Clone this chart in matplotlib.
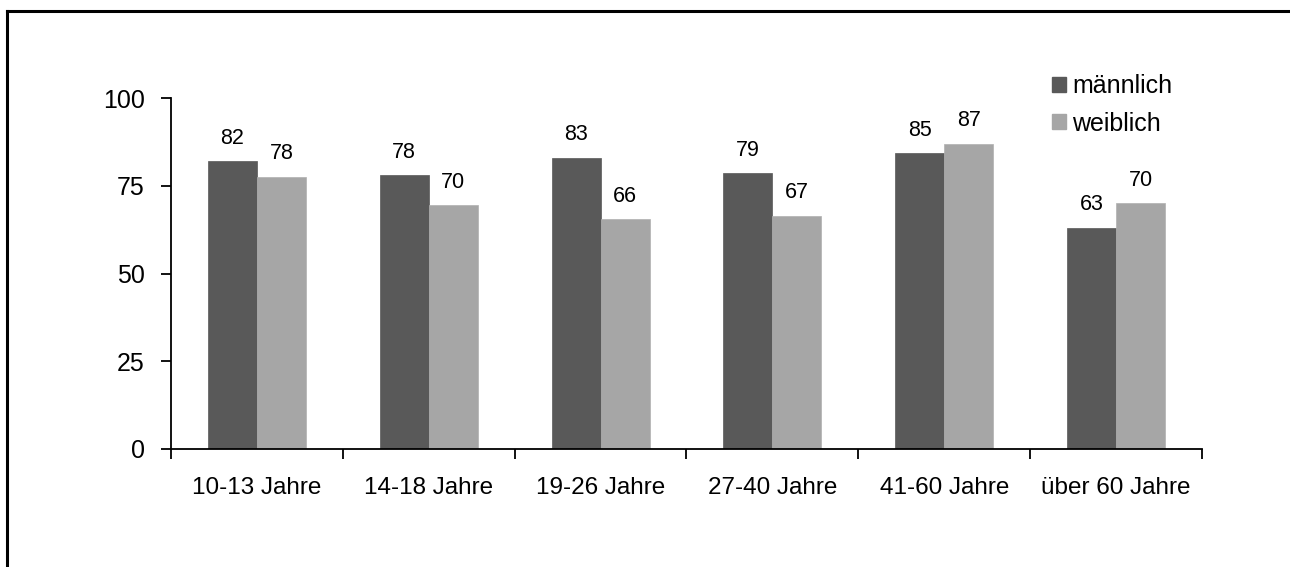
import matplotlib
matplotlib.use("Agg")
import matplotlib.pyplot as plt
import matplotlib.patches as mpatches
from matplotlib.lines import Line2D
import numpy as np

plt.rcParams['font.family'] = ['Liberation Sans', 'DejaVu Sans']

categories = ["10-13 Jahre", "14-18 Jahre", "19-26 Jahre", "27-40 Jahre", "41-60 Jahre", "über 60 Jahre"]
maennlich = [82, 78, 83, 78.5, 84.3, 63]
weiblich = [77.5, 69.5, 65.5, 66.5, 87, 70]
labels_m = ["82", "78", "83", "79", "85", "63"]
labels_w = ["78", "70", "66", "67", "87", "70"]
series_names = ["männlich", "weiblich"]

dark = "#595959"
light = "#a6a6a6"

fig = plt.figure(figsize=(12.9, 5.67), dpi=100)
ax = fig.add_axes([171 / 1290, 1 - 449 / 567, (1202 - 171) / 1290, (449 - 98) / 567])

x = np.arange(len(categories))
w = 0.285
bm = ax.bar(x - w / 2, maennlich, w, color=dark, edgecolor=dark, linewidth=0.5)
bw = ax.bar(x + w / 2, weiblich, w, color=light, edgecolor="#b0b0b0", linewidth=0.5)

for rects, labs in ((bm, labels_m), (bw, labels_w)):
    for r, lab in zip(rects, labs):
        ax.annotate(lab, (r.get_x() + r.get_width() / 2, r.get_height()),
                    xytext=(0, 9), textcoords="offset points",
                    ha="center", va="bottom", fontsize=15.5)

ax.set_xlim(-0.5, len(categories) - 0.5)
ax.set_ylim(0, 100)
ax.set_yticks([0, 25, 50, 75, 100])
ax.tick_params(axis="y", direction="out", length=7, width=1.3, pad=12, labelsize=18)

# category boundaries as major ticks, names on minor ticks
ax.set_xticks(np.arange(-0.5, len(categories), 1.0))
ax.set_xticklabels([])
ax.set_xticks(x, minor=True)
ax.set_xticklabels(categories, minor=True, fontsize=17.5)
ax.tick_params(axis="x", which="major", direction="out", length=7, width=1.3)
ax.tick_params(axis="x", which="minor", length=0, pad=20)

for s in ["top", "right"]:
    ax.spines[s].set_visible(False)
for s in ["left", "bottom"]:
    ax.spines[s].set_linewidth(1.3)

handles = [mpatches.Patch(color=dark), mpatches.Patch(color=light)]
ax.legend(handles, series_names, loc="upper left",
          bbox_to_anchor=(1052 / 1290, 1 - 74 / 567), bbox_transform=fig.transFigure,
          frameon=False, fontsize=18, handlelength=0.55, handleheight=0.55,
          handletextpad=0.25, labelspacing=0.55, borderpad=0, borderaxespad=0)

# border of the original screenshot (top and left edges only)
fig.add_artist(Line2D([7 / 1290, 1], [1 - 11 / 567, 1 - 11 / 567], transform=fig.transFigure,
                      color="black", linewidth=2.2))
fig.add_artist(Line2D([7 / 1290, 7 / 1290], [0, 1 - 11 / 567], transform=fig.transFigure,
                      color="black", linewidth=2.2))

fig.savefig("out.png", dpi=100)
